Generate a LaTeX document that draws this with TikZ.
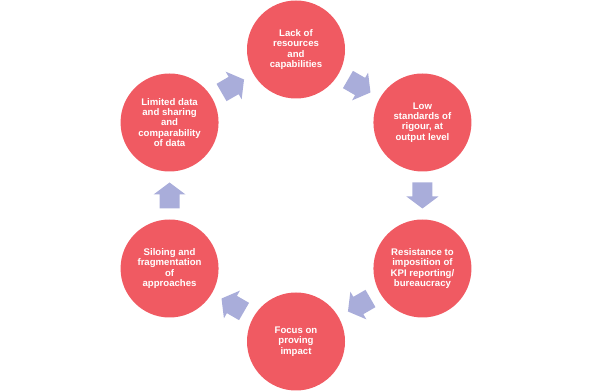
\documentclass[tikz,border=0pt]{standalone}
\usepackage{fontspec}
\setmainfont{Liberation Sans}
\usetikzlibrary{calc}
\definecolor{circred}{HTML}{F05A62}
\definecolor{arrowlav}{HTML}{A9ADDA}
\begin{document}
\begin{tikzpicture}[x=1pt,y=1pt,
  stage/.style={circle,fill=circred,minimum size=98pt,inner sep=0pt,
    text=white,align=center,font=\fontsize{9.6}{10.2}\selectfont\bfseries},
  blockarrow/.pic={\fill[arrowlav] (-13,-10) -- (1,-10) -- (1,-16) -- (13,0) -- (1,16) -- (1,10) -- (-13,10) -- cycle;}]
\useasboundingbox (0,0) rectangle (592,391);
\coordinate (C) at (296,195.5);
\node[stage] (s1) at ($(C)+(90:146)$) {Lack of\\resources\\and\\capabilities};
\node[stage] (s2) at ($(C)+(30:146)$) {Low\\standards of\\rigour, at\\output level};
\node[stage] (s3) at ($(C)+(-30:146)$) {Resistance to\\imposition of\\KPI reporting/\\bureaucracy};
\node[stage] (s4) at ($(C)+(-90:146)$) {Focus on\\proving\\impact};
\node[stage] (s5) at ($(C)+(-150:146)$) {Siloing and\\fragmentation\\of\\approaches};
\node[stage] (s6) at ($(C)+(150:146)$) {Limited data\\and sharing\\and\\comparability\\of data};
\path ($(s1)!0.5!(s2)$) pic[rotate=-30] {blockarrow};
\path ($(s2)!0.5!(s3)$) pic[rotate=-90] {blockarrow};
\path ($(s3)!0.5!(s4)$) pic[rotate=-150] {blockarrow};
\path ($(s4)!0.5!(s5)$) pic[rotate=150] {blockarrow};
\path ($(s5)!0.5!(s6)$) pic[rotate=90] {blockarrow};
\path ($(s6)!0.5!(s1)$) pic[rotate=30] {blockarrow};
\end{tikzpicture}
\end{document}
